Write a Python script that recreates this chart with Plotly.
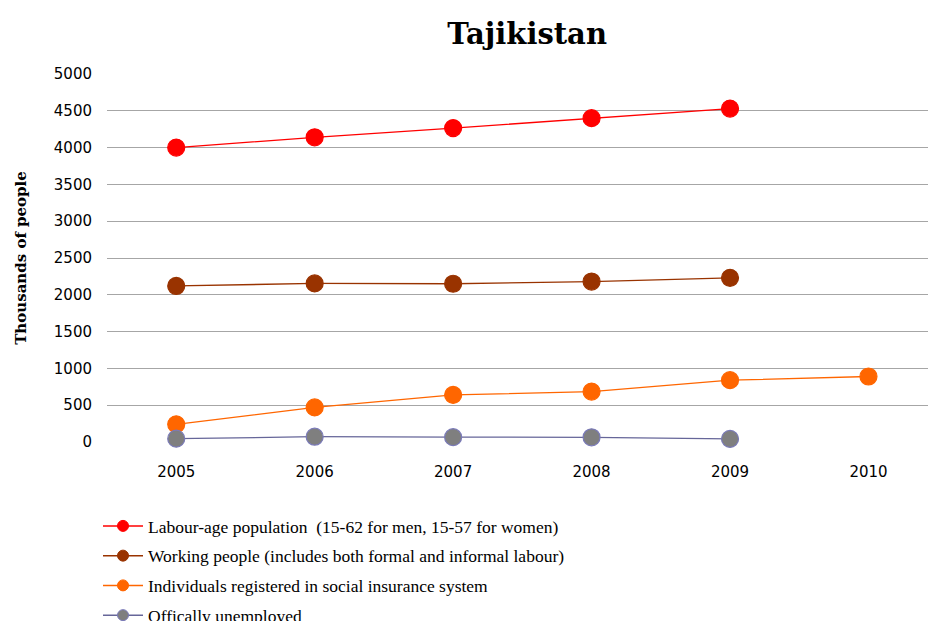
import plotly.graph_objects as go

years = [2005, 2006, 2007, 2008, 2009, 2010]

labour_age = [4000, 4140, 4265, 4400, 4530]
working = [2120, 2155, 2150, 2180, 2230]
social_insurance = [240, 470, 640, 685, 840, 890]
unemployed = [45, 72, 66, 64, 42]

series = [
    ("Labour-age population  (15-62 for men, 15-57 for women)", labour_age, "#ff0000", "#ff0000", "#ff0000"),
    ("Working people (includes both formal and informal labour)", working, "#993300", "#993300", "#993300"),
    ("Individuals registered in social insurance system", social_insurance, "#ff6600", "#ff6600", "#ff6600"),
    ("Offically unemployed", unemployed, "#7f7f7f", "#666699", "#7a7ab8"),
]

fig = go.Figure()
for i, (name, vals, fill, line_col, edge) in enumerate(series):
    # data trace
    fig.add_trace(go.Scatter(
        x=years[:len(vals)], y=vals, name=name, mode="lines+markers",
        legendgroup=f"g{i}", showlegend=False,
        line=dict(color=line_col, width=1.3),
        marker=dict(color=fill, size=17, line=dict(color=edge, width=1.2)),
        cliponaxis=False,
    ))
    # legend entry with a smaller marker
    fig.add_trace(go.Scatter(
        x=[None], y=[None], name=name, mode="lines+markers",
        legendgroup=f"g{i}", showlegend=True,
        line=dict(color=line_col, width=1.5),
        marker=dict(color=fill, size=11, line=dict(color=edge, width=1)),
    ))

fig.add_annotation(
    text="<b>Thousands of people</b>", textangle=-90,
    xref="paper", yref="paper", x=-0.105, y=0.5, xanchor="center", yanchor="middle",
    showarrow=False, font=dict(family="DejaVu Serif", size=15, color="black"),
)

fig.update_layout(
    width=928, height=621,
    margin=dict(l=107, r=0, t=74, b=179, autoexpand=False),
    paper_bgcolor="white", plot_bgcolor="white",
    title=dict(text="<b>Tajikistan</b>", x=0.568, xanchor="center", y=0.945, yanchor="middle",
               font=dict(family="DejaVu Serif", size=29, color="black")),
    xaxis=dict(range=[2004.5, 2010.43], tickvals=years, ticktext=[str(y) for y in years],
               showgrid=False, zeroline=False, showline=False,
               ticks="outside", ticklen=16, tickcolor="rgba(0,0,0,0)",
               tickfont=dict(family="DejaVu Sans", size=15, color="black")),
    yaxis=dict(range=[0, 5000], dtick=500, showgrid=True, gridcolor="#a6a6a6", gridwidth=1,
               zeroline=False, showline=False,
               ticks="outside", ticklen=11, tickcolor="rgba(0,0,0,0)",
               tickfont=dict(family="DejaVu Sans", size=15, color="black")),
    legend=dict(x=98 / 928, xanchor="left", xref="container",
                y=1 - 508 / 621, yanchor="top", yref="container",
                orientation="v", tracegroupgap=4, itemwidth=40,
                font=dict(family="Liberation Serif", size=17.5, color="black"),
                bgcolor="rgba(0,0,0,0)"),
    showlegend=True,
)

fig.write_html("out.html")
